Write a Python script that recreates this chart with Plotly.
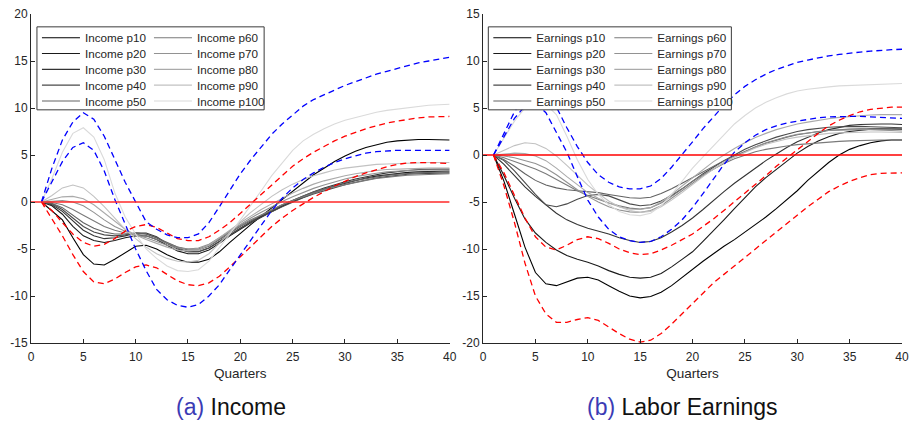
import plotly.graph_objects as go

# ---------------- data ----------------
QUARTERS = list(range(1, 41))
PCT_NAMES = ["p10", "p20", "p30", "p40", "p50", "p60", "p70", "p80", "p90", "p100"]
X_TICKS = [0, 5, 10, 15, 20, 25, 30, 35, 40]
Y_TICKS_INC = [-15, -10, -5, 0, 5, 10, 15, 20]
Y_TICKS_EARN = [-20, -15, -10, -5, 0, 5, 10, 15]
ZERO_X = [0, 40]
ZERO_Y = [0, 0]

INC_P10 = [0, -0.9, -1.9, -3.8, -5.6, -6.6, -6.7, -6.1, -5.4, -4.7, -4.6, -5.0, -5.6, -6.1, -6.4, -6.4, -6.1, -5.3, -4.3, -3.3, -2.4, -1.5, -0.6, 0.3, 1.2, 2.1, 2.9, 3.6, 4.3, 4.9, 5.4, 5.8, 6.1, 6.35, 6.5, 6.6, 6.65, 6.65, 6.6, 6.6]
INC_P20 = [0, -0.4, -1.3, -2.6, -3.6, -4.1, -4.3, -4.1, -3.8, -3.6, -3.6, -4.0, -4.6, -5.2, -5.5, -5.5, -5.1, -4.4, -3.6, -2.9, -2.2, -1.6, -1.0, -0.45, 0.05, 0.5, 0.95, 1.35, 1.7, 2.0, 2.3, 2.55, 2.75, 2.9, 3.05, 3.15, 3.2, 3.25, 3.3, 3.3]
INC_P30 = [0, -0.3, -1.0, -2.0, -3.0, -3.6, -3.9, -3.8, -3.6, -3.3, -3.3, -3.7, -4.4, -5.0, -5.3, -5.3, -4.9, -4.2, -3.5, -2.8, -2.1, -1.5, -0.9, -0.35, 0.15, 0.65, 1.1, 1.5, 1.85, 2.15, 2.45, 2.7, 2.9, 3.1, 3.25, 3.35, 3.45, 3.5, 3.5, 3.5]
INC_P40 = [0, -0.2, -0.8, -1.7, -2.6, -3.2, -3.5, -3.6, -3.5, -3.3, -3.4, -3.8, -4.4, -4.9, -5.3, -5.3, -4.9, -4.2, -3.5, -2.8, -2.2, -1.6, -1.05, -0.5, 0.0, 0.45, 0.85, 1.2, 1.55, 1.85, 2.1, 2.35, 2.55, 2.7, 2.85, 2.95, 3.0, 3.05, 3.1, 3.1]
INC_P50 = [0, -0.15, -0.6, -1.4, -2.2, -2.8, -3.2, -3.4, -3.4, -3.3, -3.4, -3.8, -4.3, -4.8, -5.1, -5.1, -4.7, -4.0, -3.3, -2.6, -2.0, -1.4, -0.85, -0.3, 0.2, 0.65, 1.05, 1.4, 1.75, 2.05, 2.3, 2.5, 2.7, 2.85, 2.95, 3.05, 3.1, 3.15, 3.2, 3.2]
INC_P60 = [0, -0.05, -0.3, -0.8, -1.4, -2.0, -2.6, -3.0, -3.3, -3.4, -3.6, -4.0, -4.4, -4.8, -5.0, -5.0, -4.6, -3.9, -3.2, -2.5, -1.9, -1.35, -0.8, -0.3, 0.15, 0.55, 0.95, 1.3, 1.6, 1.85, 2.1, 2.3, 2.5, 2.65, 2.75, 2.85, 2.9, 2.95, 3.0, 3.0]
INC_P70 = [0, 0.1, 0.15, 0.0, -0.4, -1.1, -1.9, -2.6, -3.1, -3.5, -3.8, -4.2, -4.6, -4.9, -5.0, -4.9, -4.5, -3.8, -3.1, -2.4, -1.7, -1.1, -0.5, 0.05, 0.55, 1.0, 1.45, 1.8, 2.15, 2.45, 2.7, 2.9, 3.05, 3.2, 3.3, 3.35, 3.4, 3.4, 3.4, 3.4]
INC_P80 = [0, 0.25, 0.55, 0.6, 0.35, -0.3, -1.2, -2.1, -2.9, -3.5, -4.0, -4.4, -4.8, -5.1, -5.2, -5.1, -4.6, -3.8, -3.0, -2.2, -1.5, -0.8, -0.2, 0.4, 0.95, 1.45, 1.9, 2.25, 2.55, 2.8, 3.0, 3.2, 3.35, 3.45, 3.5, 3.55, 3.6, 3.6, 3.6, 3.6]
INC_P90 = [0, 0.7, 1.5, 1.8, 1.5, 0.6, -0.5, -1.7, -2.9, -3.9, -4.8, -5.5, -6.0, -6.3, -6.4, -6.2, -5.5, -4.4, -3.2, -2.1, -1.1, -0.2, 0.6, 1.3, 1.9, 2.4, 2.8, 3.1, 3.4, 3.6, 3.75, 3.9, 4.0, 4.05, 4.1, 4.15, 4.2, 4.2, 4.2, 4.2]
INC_P100 = [0, 2.5, 5.3, 7.3, 7.9, 6.9, 4.5, 1.0, -1.6, -3.4, -5.0, -6.0, -6.8, -7.3, -7.4, -7.2, -6.3, -4.9, -3.4, -1.9, -0.4, 1.2, 2.8, 4.2, 5.5, 6.5, 7.2, 7.8, 8.3, 8.7, 9.0, 9.3, 9.55, 9.75, 9.9, 10.05, 10.2, 10.3, 10.35, 10.4]
INC_BLUE_HI = [0, 3.6, 6.6, 8.5, 9.5, 8.8, 7.0, 4.5, 2.1, 0.0, -2.1, -2.9, -3.5, -3.8, -3.8, -3.4, -2.2, -0.5, 1.3, 3.0, 4.5, 5.9, 7.2, 8.3, 9.3, 10.2, 10.9, 11.4, 11.9, 12.4, 12.8, 13.2, 13.6, 13.9, 14.2, 14.5, 14.8, 15.0, 15.2, 15.4]
INC_BLUE_LO = [0, 2.1, 4.3, 5.8, 6.3, 5.5, 3.3, 0.3, -2.3, -5.0, -7.3, -9.3, -10.4, -11.0, -11.2, -10.9, -10.0, -8.8, -7.2, -5.6, -4.0, -2.5, -0.9, 0.4, 1.5, 2.4, 3.1, 3.7, 4.2, 4.6, 4.9, 5.2, 5.35, 5.45, 5.5, 5.5, 5.5, 5.5, 5.5, 5.5]
INC_RED_HI = [0, -0.9, -2.2, -3.4, -4.3, -4.7, -4.5, -3.9, -3.1, -2.6, -2.4, -2.7, -3.3, -3.9, -4.1, -4.1, -3.7, -3.0, -2.2, -1.2, -0.2, 0.9, 1.9, 2.9, 3.8, 4.6, 5.3, 5.9, 6.5, 7.0, 7.4, 7.8, 8.1, 8.4, 8.6, 8.8, 8.95, 9.05, 9.1, 9.1]
INC_RED_LO = [0, -1.8, -3.6, -5.6, -7.4, -8.5, -8.7, -8.2, -7.5, -6.9, -6.7, -7.0, -7.7, -8.4, -8.8, -8.9, -8.6, -7.9, -6.9, -5.8, -4.7, -3.6, -2.6, -1.7, -0.9, -0.2, 0.5, 1.1, 1.7, 2.2, 2.7, 3.1, 3.45, 3.75, 4.0, 4.15, 4.2, 4.2, 4.15, 4.1]

EARN_P10 = [0, -2.8, -6.3, -9.8, -12.5, -13.7, -13.9, -13.5, -13.1, -13.0, -13.3, -13.9, -14.5, -15.0, -15.2, -15.05, -14.6, -13.9, -13.0, -12.1, -11.3, -10.5, -9.7, -9.0, -8.2, -7.4, -6.6, -5.7, -4.8, -3.8, -2.7, -1.7, -0.8, 0.0, 0.6, 1.0, 1.3, 1.5, 1.6, 1.6]
EARN_P20 = [0, -2.2, -4.6, -6.8, -8.3, -9.3, -10.1, -10.7, -11.1, -11.4, -11.8, -12.3, -12.7, -13.0, -13.1, -13.0, -12.6, -11.9, -11.1, -10.3, -9.2, -8.1, -6.9, -5.7, -4.5, -3.4, -2.4, -1.5, -0.6, 0.2, 0.9, 1.5, 1.95, 2.3, 2.5, 2.65, 2.75, 2.8, 2.8, 2.75]
EARN_P30 = [0, -1.0, -2.2, -3.4, -4.4, -5.3, -6.2, -6.9, -7.4, -7.8, -8.1, -8.4, -8.8, -9.1, -9.3, -9.2, -8.8, -8.2, -7.5, -6.7, -5.8, -4.8, -3.9, -3.0, -2.2, -1.4, -0.6, 0.1, 0.8, 1.4, 1.9, 2.35, 2.7, 2.95, 3.15, 3.25, 3.3, 3.3, 3.3, 3.25]
EARN_P40 = [0, -0.6, -1.7, -3.0, -4.2, -5.3, -5.5, -5.2, -4.7, -4.3, -4.2, -4.35, -4.8, -5.2, -5.4, -5.3, -4.9, -4.3, -3.6, -2.8, -2.0, -1.3, -0.6, 0.0, 0.6, 1.1, 1.5, 1.9, 2.2, 2.5, 2.7, 2.85, 2.95, 3.0, 3.05, 3.05, 3.0, 2.95, 2.9, 2.9]
EARN_P50 = [0, -0.5, -1.2, -2.0, -2.7, -3.2, -3.5, -3.7, -3.8, -3.9, -4.0, -4.2, -4.4, -4.55, -4.6, -4.5, -4.1, -3.6, -3.0, -2.4, -1.8, -1.2, -0.6, -0.1, 0.4, 0.85, 1.25, 1.6, 1.9, 2.15, 2.35, 2.5, 2.6, 2.7, 2.75, 2.8, 2.8, 2.8, 2.8, 2.8]
EARN_P60 = [0, -0.3, -0.7, -1.1, -1.5, -2.0, -2.6, -3.2, -3.8, -4.3, -4.7, -5.1, -5.4, -5.65, -5.75, -5.6, -5.1, -4.4, -3.6, -2.8, -2.1, -1.5, -0.9, -0.4, 0.0, 0.35, 0.6, 0.8, 0.95, 1.1, 1.2, 1.3, 1.4, 1.45, 1.5, 1.55, 1.6, 1.6, 1.6, 1.6]
EARN_P70 = [0, -0.1, -0.3, -0.6, -0.9, -1.4, -2.1, -2.9, -3.7, -4.4, -5.0, -5.5, -5.85, -6.05, -6.1, -5.9, -5.4, -4.6, -3.8, -3.0, -2.2, -1.5, -0.8, -0.2, 0.35, 0.85, 1.3, 1.65, 1.95, 2.2, 2.35, 2.5, 2.6, 2.65, 2.7, 2.7, 2.7, 2.65, 2.6, 2.55]
EARN_P80 = [0, 0.1, 0.2, 0.15, -0.1, -0.6, -1.4, -2.3, -3.2, -4.0, -4.6, -5.1, -5.5, -5.75, -5.8, -5.6, -5.0, -4.2, -3.3, -2.4, -1.5, -0.7, 0.0, 0.7, 1.3, 1.85, 2.3, 2.7, 3.0, 3.3, 3.5, 3.7, 3.85, 4.0, 4.1, 4.2, 4.25, 4.3, 4.3, 4.3]
EARN_P90 = [0, 0.5, 1.0, 1.3, 1.2, 0.7, -0.1, -1.1, -2.2, -3.2, -4.1, -4.9, -5.5, -5.9, -6.1, -6.0, -5.5, -4.8, -4.0, -3.1, -2.3, -1.5, -0.8, -0.2, 0.3, 0.75, 1.15, 1.45, 1.7, 1.9, 2.05, 2.2, 2.3, 2.35, 2.4, 2.45, 2.45, 2.45, 2.45, 2.4]
EARN_P100 = [0, 1.8, 3.6, 5.0, 5.6, 5.4, 4.3, 2.0, -0.5, -2.6, -4.2, -5.3, -6.0, -6.35, -6.45, -6.2, -5.4, -4.2, -2.8, -1.4, -0.2, 1.0, 2.2, 3.3, 4.2, 5.0, 5.6, 6.1, 6.5, 6.8, 7.0, 7.15, 7.25, 7.35, 7.4, 7.45, 7.5, 7.55, 7.55, 7.6]
EARN_BLUE_HI = [0, 2.3, 4.6, 6.3, 7.0, 6.6, 5.1, 2.9, 0.9, -0.8, -2.1, -2.9, -3.4, -3.6, -3.6, -3.3, -2.5, -1.3, 0.0, 1.4, 2.8, 4.1, 5.3, 6.4, 7.3, 8.0, 8.6, 9.1, 9.5, 9.85, 10.1, 10.35, 10.55, 10.7, 10.85, 10.95, 11.05, 11.15, 11.2, 11.25]
EARN_BLUE_LO = [0, 2.0, 3.9, 5.2, 5.5, 4.5, 2.4, 0.3, -2.3, -4.8, -6.6, -7.9, -8.7, -9.1, -9.3, -9.2, -8.7, -7.9, -6.9, -5.6, -4.1, -2.5, -1.0, 0.3, 1.3, 2.1, 2.7, 3.1, 3.4, 3.6, 3.8, 3.95, 4.05, 4.1, 4.1, 4.1, 4.05, 4.0, 3.95, 3.9]
EARN_RED_HI = [0, -1.9, -4.3, -6.7, -8.7, -9.8, -10.1, -9.6, -9.0, -8.7, -8.9, -9.4, -10.0, -10.4, -10.6, -10.5, -10.1, -9.6, -9.0, -8.4, -7.6, -6.8, -5.9, -5.0, -4.1, -3.2, -2.2, -1.2, -0.3, 0.6, 1.5, 2.3, 3.1, 3.7, 4.2, 4.6, 4.85, 5.0, 5.1, 5.1]
EARN_RED_LO = [0, -3.3, -7.2, -11.5, -15.0, -16.9, -17.8, -17.8, -17.5, -17.3, -17.6, -18.3, -19.0, -19.6, -19.9, -19.7, -19.0, -18.0, -16.9, -15.7, -14.6, -13.6, -12.7, -11.8, -10.9, -10.0, -9.1, -8.2, -7.3, -6.4, -5.5, -4.7, -3.9, -3.3, -2.8, -2.4, -2.1, -1.95, -1.9, -1.9]

INC_LINES = [INC_P10, INC_P20, INC_P30, INC_P40, INC_P50, INC_P60, INC_P70, INC_P80, INC_P90, INC_P100]
EARN_LINES = [EARN_P10, EARN_P20, EARN_P30, EARN_P40, EARN_P50, EARN_P60, EARN_P70, EARN_P80, EARN_P90, EARN_P100]

# ---------------- styling ----------------
W, H = 916, 423
ML, MR, MT, MB = 31, 7, 10, 80
PW, PH = W - ML - MR, H - MT - MB
GRAYS = ["#000000", "#1a1a1a", "#333333", "#4a4a4a", "#626262",
         "#7a7a7a", "#929292", "#aaaaaa", "#c2c2c2", "#dadada"]
AX = "#262626"
FONT = "Liberation Sans, Arial, sans-serif"
DASH = "6px,4px"


def px_x(v):
    return (v - ML) / PW


def px_y(v):
    return (H - MB - v) / PH


fig = go.Figure()

panels = [
    dict(lines=INC_LINES, prefix="Income", xa="x", ya="y",
         bands=[(INC_RED_HI, "#ff0000"), (INC_RED_LO, "#ff0000"),
                (INC_BLUE_HI, "#0000ff"), (INC_BLUE_LO, "#0000ff")],
         zero=dict(color="rgba(255,40,40,0.75)", width=2.2)),
    dict(lines=EARN_LINES, prefix="Earnings", xa="x2", ya="y2",
         bands=[(EARN_RED_HI, "#ff0000"), (EARN_RED_LO, "#ff0000"),
                (EARN_BLUE_HI, "#0000ff"), (EARN_BLUE_LO, "#0000ff")],
         zero=dict(color="#ff0000", width=1.4)),
]


def legend_name(panel, row):
    n = panel * 5 + row + 1
    return "legend" if n == 1 else f"legend{n}"


for k, p in enumerate(panels):
    for i, ys in enumerate(p["lines"]):
        extra = {}
        if i >= 5:
            extra["legendwidth"] = 90
        fig.add_trace(go.Scatter(
            x=QUARTERS, y=ys, mode="lines",
            name=f"{p['prefix']} {PCT_NAMES[i]}",
            line=dict(color=GRAYS[i], width=1.1),
            xaxis=p["xa"], yaxis=p["ya"],
            legend=legend_name(k, i % 5), hoverinfo="skip", **extra))
    for ys, col in p["bands"]:
        fig.add_trace(go.Scatter(
            x=QUARTERS, y=ys, mode="lines", showlegend=False,
            line=dict(color=col, width=1.3, dash=DASH),
            xaxis=p["xa"], yaxis=p["ya"], hoverinfo="skip"))
    fig.add_trace(go.Scatter(
        x=ZERO_X, y=ZERO_Y, mode="lines", showlegend=False,
        line=p["zero"], xaxis=p["xa"], yaxis=p["ya"], hoverinfo="skip"))

ROW_Y = [34, 50, 66, 82, 98]
legend_boxes = [(37, 266, 107), (492, 737, 116)]
legend_cfg = {}
for k, (bx0, bx1, ew) in enumerate(legend_boxes):
    for r in range(5):
        legend_cfg[legend_name(k, r)] = dict(
            orientation="h", x=px_x(bx0), xanchor="left",
            y=px_y(ROW_Y[r]), yanchor="middle",
            entrywidth=ew - 48, entrywidthmode="pixels", itemwidth=38,
            bgcolor="rgba(0,0,0,0)", borderwidth=0,
            font=dict(family=FONT, size=11.7, color=AX),
            tracegroupgap=0, itemclick=False, itemdoubleclick=False)

shapes = []
for bx0, bx1, _ in legend_boxes:
    shapes.append(dict(type="rect", xref="paper", yref="paper",
                       x0=px_x(bx0), x1=px_x(bx1), y0=px_y(107), y1=px_y(23),
                       fillcolor="white", line=dict(color="#3a3a3a", width=1),
                       layer="above"))

axis_common = dict(showline=True, linecolor=AX, linewidth=1, ticks="inside",
                   ticklen=4, tickcolor=AX, showgrid=False, zeroline=False,
                   tickfont=dict(family=FONT, size=12, color=AX), mirror=False)


def tick_text(vals):
    return [str(v) for v in vals]


fig.update_layout(
    width=W, height=H, margin=dict(l=ML, r=MR, t=MT, b=MB),
    paper_bgcolor="white", plot_bgcolor="white",
    showlegend=True, shapes=shapes,
    xaxis=dict(domain=[0, px_x(453)], range=[0, 40], tickvals=X_TICKS,
               ticktext=tick_text(X_TICKS), anchor="y", ticklabelstandoff=3,
               title=dict(text="Quarters", font=dict(family=FONT, size=13.5, color=AX), standoff=5),
               **axis_common),
    yaxis=dict(domain=[0, 1], range=[-15, 20], tickvals=Y_TICKS_INC,
               ticktext=tick_text(Y_TICKS_INC), anchor="x", **axis_common),
    xaxis2=dict(domain=[px_x(486.7), 1], range=[0, 40], tickvals=X_TICKS,
                ticktext=tick_text(X_TICKS), anchor="y2", ticklabelstandoff=3,
                title=dict(text="Quarters", font=dict(family=FONT, size=13.5, color=AX), standoff=5),
                **axis_common),
    yaxis2=dict(domain=[0, 1], range=[-20, 15], tickvals=Y_TICKS_EARN,
                ticktext=tick_text(Y_TICKS_EARN), anchor="x2", **axis_common),
    annotations=[
        dict(text="<span style='color:#3b3bb5'>(a)</span> Income", xref="paper", yref="paper",
             x=px_x(233), y=px_y(408), xanchor="center", yanchor="middle", showarrow=False,
             font=dict(family=FONT, size=23, color="#111111")),
        dict(text="<span style='color:#3b3bb5'>(b)</span> Labor Earnings", xref="paper", yref="paper",
             x=px_x(688), y=px_y(408), xanchor="center", yanchor="middle", showarrow=False,
             font=dict(family=FONT, size=23, color="#111111")),
    ],
    **legend_cfg,
)

fig.write_html("out.html",
               config={"displayModeBar": False},
               post_script="document.body.style.margin='0px';document.body.style.overflow='hidden';")
